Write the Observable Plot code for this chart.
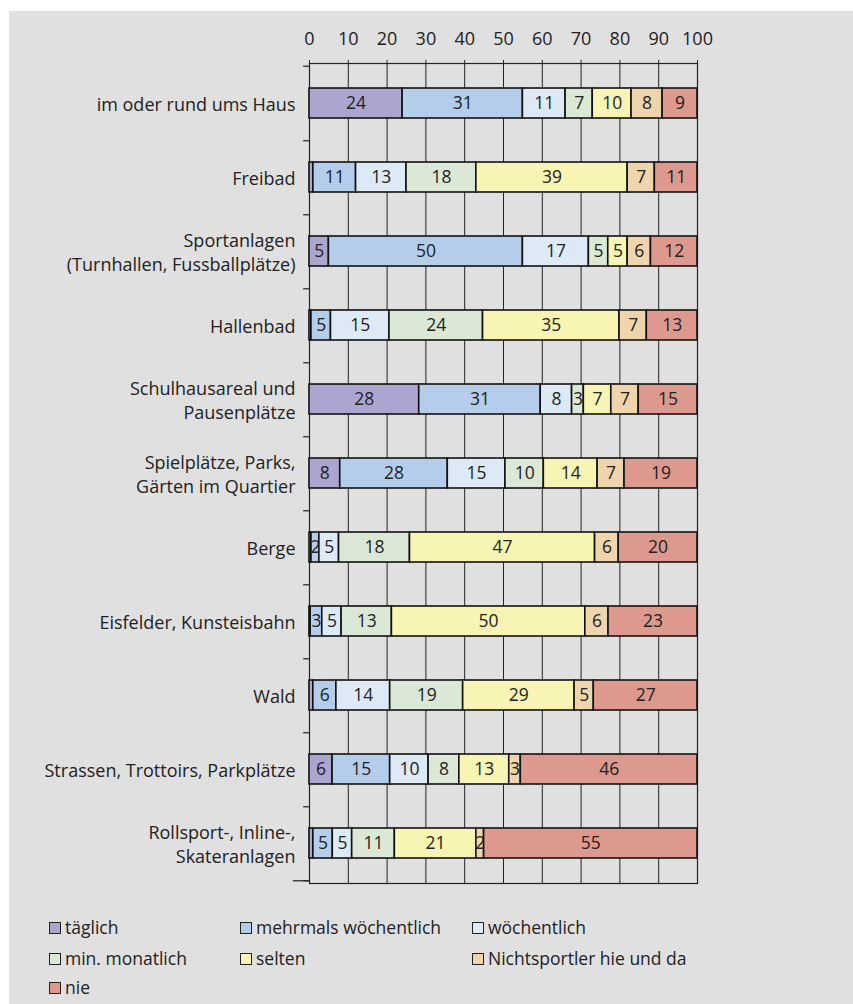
<!DOCTYPE html>
<html><head><meta charset="utf-8">
<script src="https://cdn.jsdelivr.net/npm/d3@7"></script>
<script src="https://cdn.jsdelivr.net/npm/@observablehq/plot@0.6"></script>
<style>
html,body{margin:0;padding:0;background:#fff;}
#panel{position:absolute;left:9px;top:11px;width:844px;height:993px;background:#e0e0e0;font-family:"Open Sans",sans-serif;color:#222;}
#chart{position:absolute;left:0;top:0;}
.lg{position:absolute;display:flex;align-items:center;font-size:17.5px;white-space:nowrap;line-height:1;}
.sw{width:10px;height:10px;border:1.5px solid #222;margin-right:4px;}
</style></head>
<body><div id="panel"><div id="chart"></div><div id="legend"></div></div>
<script>
const categories = [
  "im oder rund ums Haus",
  "Freibad",
  "Sportanlagen\n(Turnhallen, Fussballplätze)",
  "Hallenbad",
  "Schulhausareal und\nPausenplätze",
  "Spielplätze, Parks,\nGärten im Quartier",
  "Berge",
  "Eisfelder, Kunsteisbahn",
  "Wald",
  "Strassen, Trottoirs, Parkplätze",
  "Rollsport-, Inline-,\nSkateranlagen"
];
const series = ["täglich", "mehrmals wöchentlich", "wöchentlich", "min. monatlich", "selten", "Nichtsportler hie und da", "nie"];
const colors = ["#aba6cf", "#b3cdeb", "#ddeaf6", "#dbe8d6", "#f8f5b4", "#efd5ac", "#dd998d"];

const taeglich      = [24, 1, 5, 0.5, 28, 8, 0.5, 0.3, 1, 6, 1];
const mehrmals      = [31, 11, 50, 5, 31, 28, 2, 3, 6, 15, 5];
const woechentlich  = [11, 13, 17, 15, 8, 15, 5, 5, 14, 10, 5];
const monatlich     = [7, 18, 5, 24, 3, 10, 18, 13, 19, 8, 11];
const selten        = [10, 39, 5, 35, 7, 14, 47, 50, 29, 13, 21];
const nichtsportler = [8, 7, 6, 7, 7, 7, 6, 6, 5, 3, 2];
const nie           = [9, 11, 12, 13, 15, 19, 20, 23, 27, 46, 55];
const xTicks = [0, 10, 20, 30, 40, 50, 60, 70, 80, 90, 100];

const valuesBySeries = [taeglich, mehrmals, woechentlich, monatlich, selten, nichtsportler, nie];
const data = categories.flatMap((c, i) => series.map((s, j) => ({cat: c, series: s, value: valuesBySeries[j][i]})));

const H = 892, mTop = 52, mBottom = 20;
const step = (H - mTop - mBottom) / categories.length;
const ink = "#222";

const chart = Plot.plot({
  width: 844, height: H,
  marginLeft: 300, marginRight: 156, marginTop: mTop, marginBottom: mBottom,
  style: {background: "transparent", fontFamily: "'Open Sans', sans-serif", fontSize: "18px", color: ink},
  x: {domain: [0, 1], axis: null, label: null},
  y: {domain: categories, paddingInner: 0.6, paddingOuter: 0.3, axis: null, label: null},
  color: {domain: series, range: colors},
  marks: [
    Plot.gridX(xTicks.map(d => d / 100), {stroke: ink, strokeOpacity: 1, strokeWidth: 1}),
    Plot.frame({stroke: ink, strokeWidth: 1.2}),
    Plot.ruleY(categories, {y: d => d, x1: -0.015, x2: 0, dy: step / 2, stroke: ink, strokeWidth: 1.2}),
    Plot.ruleY([categories[categories.length - 1]], {y: d => d, x1: -0.042, x2: 0, dy: step / 2, stroke: ink, strokeWidth: 1.2}),
    Plot.ruleY([categories[0]], {y: d => d, x1: -0.015, x2: 0, dy: -step / 2, stroke: ink, strokeWidth: 1.2}),
    Plot.axisX(xTicks.map(d => d / 100), {anchor: "top", label: null, tickSize: 4, tickPadding: 15, tickFormat: d => Math.round(d * 100), fontSize: 18, stroke: ink, fill: ink}),
    Plot.axisY({label: null, tickSize: 0, tickPadding: 14, fontSize: 18, lineHeight: 1.33, fill: ink}),
    Plot.barX(data, Plot.stackX({x: "value", y: "cat", fill: "series", offset: "normalize", stroke: "#111", strokeWidth: 1.6})),
    Plot.text(data, Plot.stackX({x: "value", y: "cat", z: "series", offset: "normalize",
      text: d => d.value >= 1.5 ? String(d.value) : "", fill: ink, fontSize: 17.5}))
  ]
});
document.getElementById("chart").appendChild(chart);

const legend = document.getElementById("legend");
const colX = [40, 231, 463];
const rowY = [908, 939, 968];
series.forEach((s, i) => {
  const el = document.createElement("div");
  el.className = "lg";
  el.style.left = colX[i % 3] + "px";
  el.style.top = rowY[Math.floor(i / 3)] + "px";
  const sw = document.createElement("span");
  sw.className = "sw";
  sw.style.background = colors[i];
  el.appendChild(sw);
  el.appendChild(document.createTextNode(s));
  legend.appendChild(el);
});
</script>
</body></html>
